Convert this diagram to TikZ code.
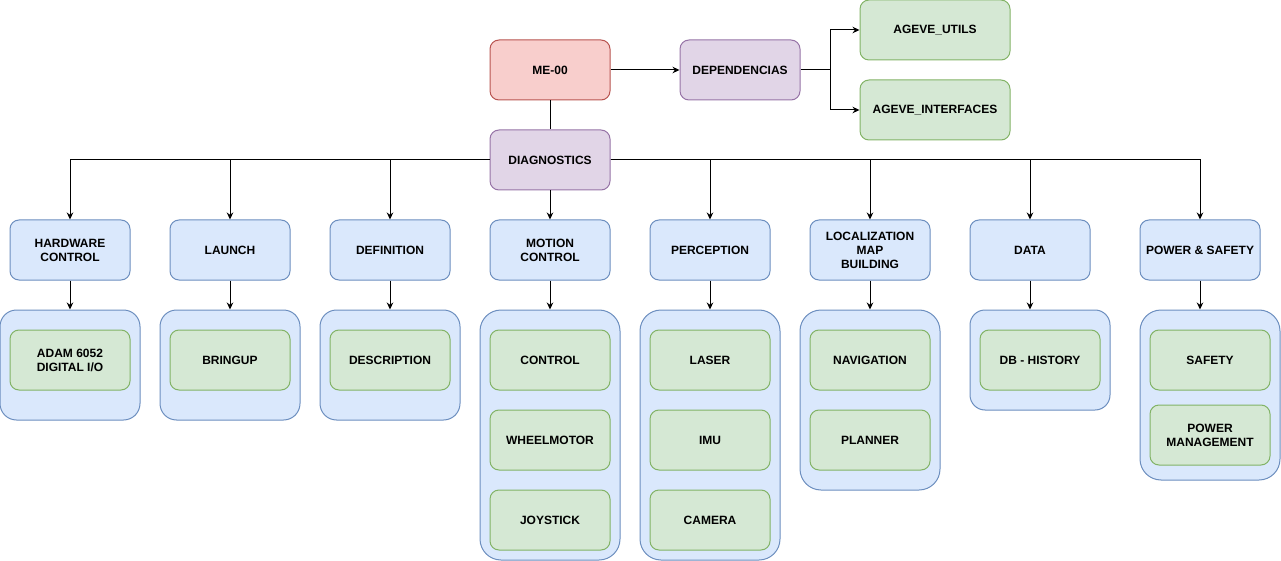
\documentclass[tikz,border=0pt]{standalone}
\usepackage{fontspec}
\setmainfont{Liberation Sans}
\usetikzlibrary{arrows.meta}

\definecolor{redfill}{HTML}{F8CECC}
\definecolor{redline}{HTML}{B85450}
\definecolor{purplefill}{HTML}{E1D5E7}
\definecolor{purpleline}{HTML}{9673A6}
\definecolor{bluefill}{HTML}{DAE8FC}
\definecolor{blueline}{HTML}{6C8EBF}
\definecolor{greenfill}{HTML}{D5E8D4}
\definecolor{greenline}{HTML}{82B366}

\begin{document}
\begin{tikzpicture}[x=1pt,y=-1pt,line width=1pt,
  >={Stealth[length=7pt,width=6.5pt]},
  font=\fontsize{12}{14}\selectfont\bfseries,
  unit/.style={draw,rounded corners=9pt,minimum width=120pt,minimum height=60pt,
    inner sep=0pt,align=center},
  root/.style={unit,fill=redfill,draw=redline},
  meta/.style={unit,fill=purplefill,draw=purpleline},
  module/.style={unit,fill=bluefill,draw=blueline},
  package/.style={unit,fill=greenfill,draw=greenline},
  group/.style={draw=blueline,fill=bluefill,minimum width=140pt,inner sep=0pt}]

\useasboundingbox (0,0) rectangle (1281,561);

\def\top{310}

\node[root] (me) at (550,70) {ME-00};
\node[meta] (dep) at (740,70) {DEPENDENCIAS};
\node[package,minimum width=150pt] (utils) at (935,30) {AGEVE\_UTILS};
\node[package,minimum width=150pt] (ifaces) at (935,110) {AGEVE\_INTERFACES};
\node[meta] (diag) at (550,160) {DIAGNOSTICS};

\node[module] (hw) at (70,250) {HARDWARE\\CONTROL};
\node[module] (launch) at (230,250) {LAUNCH};
\node[module] (def) at (390,250) {DEFINITION};
\node[module] (motion) at (550,250) {MOTION\\CONTROL};
\node[module] (perc) at (710,250) {PERCEPTION};
\node[module] (loc) at (870,250) {LOCALIZATION\\MAP\\BUILDING};
\node[module] (data) at (1030,250) {DATA};
\node[module] (power) at (1200,250) {POWER \& SAFETY};

% containers
\node[group,minimum height=110pt,rounded corners=16.5pt] (hwgroup) at (70,{\top+55}) {};
\node[group,minimum height=110pt,rounded corners=16.5pt] (launchgroup) at (230,{\top+55}) {};
\node[group,minimum height=110pt,rounded corners=16.5pt] (defgroup) at (390,{\top+55}) {};
\node[group,minimum height=250pt,rounded corners=21pt] (motiongroup) at (550,{\top+125}) {};
\node[group,minimum height=250pt,rounded corners=21pt] (percgroup) at (710,{\top+125}) {};
\node[group,minimum height=180pt,rounded corners=21pt] (locgroup) at (870,{\top+90}) {};
\node[group,minimum height=100pt,rounded corners=15pt] (datagroup) at (1040,{\top+50}) {};
\node[group,minimum height=170pt,rounded corners=21pt] (powergroup) at (1210,{\top+85}) {};

\node[package] (adam) at (70,360) {ADAM 6052\\DIGITAL I/O};
\node[package] (bringup) at (230,360) {BRINGUP};
\node[package] (desc) at (390,360) {DESCRIPTION};
\node[package] (control) at (550,360) {CONTROL};
\node[package] (wheel) at (550,440) {WHEELMOTOR};
\node[package] (joy) at (550,520) {JOYSTICK};
\node[package] (laser) at (710,360) {LASER};
\node[package] (imu) at (710,440) {IMU};
\node[package] (camera) at (710,520) {CAMERA};
\node[package] (nav) at (870,360) {NAVIGATION};
\node[package] (planner) at (870,440) {PLANNER};
\node[package] (history) at (1040,360) {DB - HISTORY};
\node[package] (safety) at (1210,360) {SAFETY};
\node[package] (pm) at (1210,435) {POWER\\MANAGEMENT};

\coordinate (split) at (830,70);

\draw[->] (me) -- (dep);
\draw (dep) -- (split);
\draw[->] (split) |- (utils);
\draw[->] (split) |- (ifaces);
\draw (me) -- (diag);

\draw[->] (diag) -| (hw);
\draw[->] (diag) -| (launch);
\draw[->] (diag) -| (def);
\draw[->] (diag) -- (motion);
\draw[->] (diag) -| (perc);
\draw[->] (diag) -| (loc);
\draw[->] (diag) -| (data);
\draw[->] (diag) -| (power);

\draw[->] (hw) -- (hw |- hwgroup.north);
\draw[->] (launch) -- (launch |- launchgroup.north);
\draw[->] (def) -- (def |- defgroup.north);
\draw[->] (motion) -- (motion |- motiongroup.north);
\draw[->] (perc) -- (perc |- percgroup.north);
\draw[->] (loc) -- (loc |- locgroup.north);
\draw[->] (data) -- (data |- datagroup.north);
\draw[->] (power) -- (power |- powergroup.north);

\end{tikzpicture}
\end{document}
